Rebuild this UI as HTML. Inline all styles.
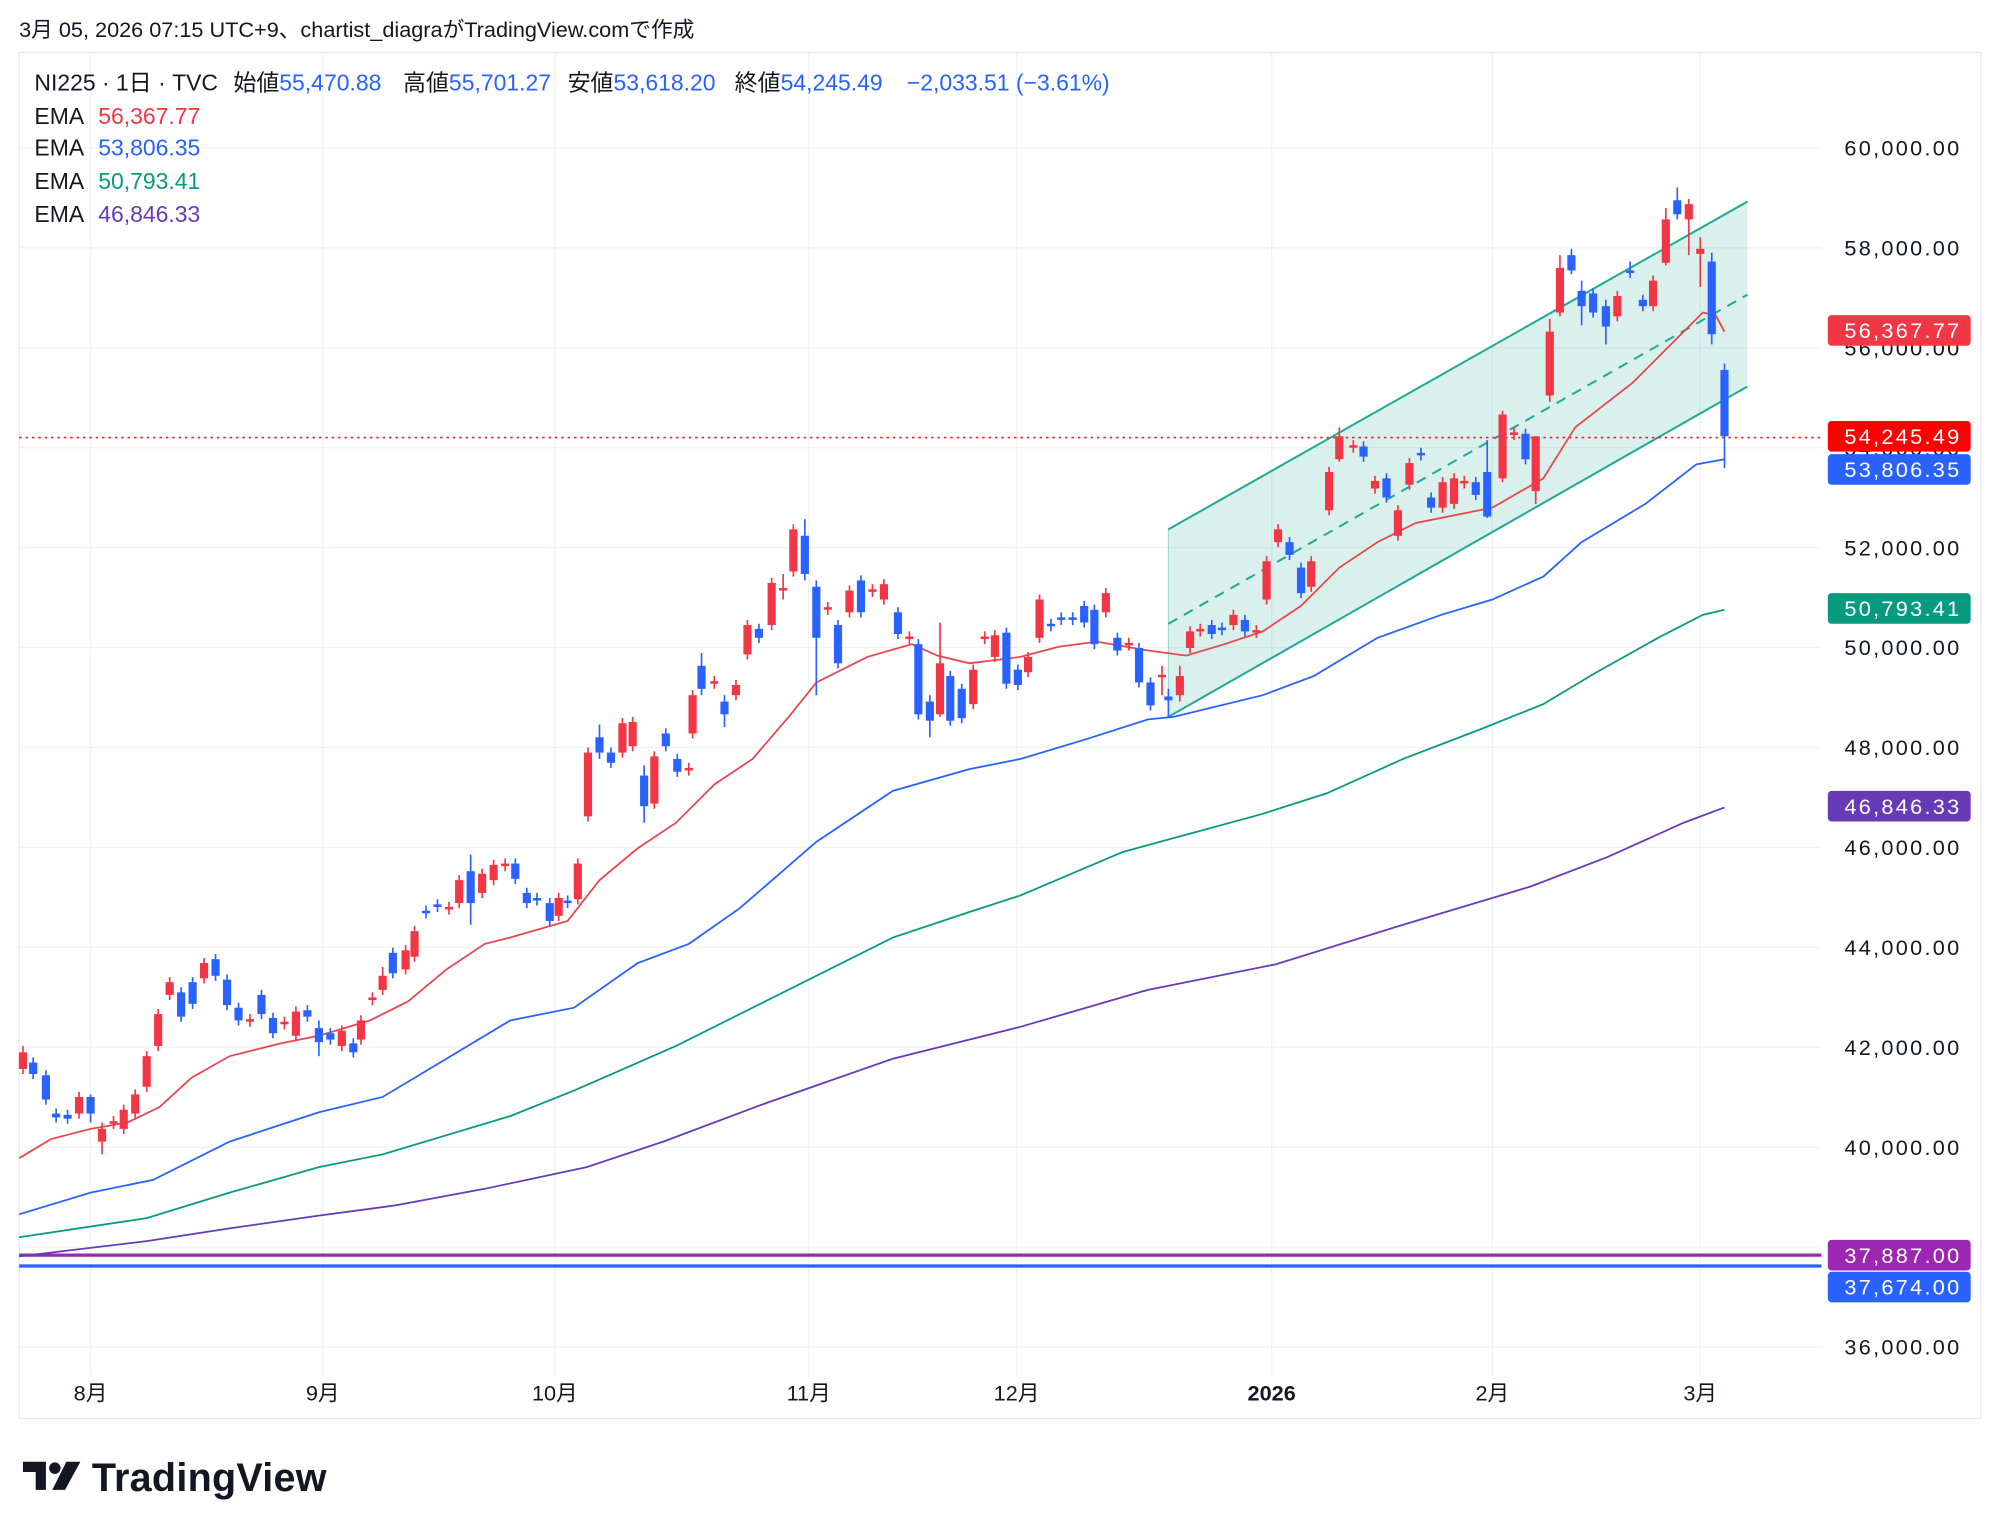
<!DOCTYPE html>
<html><head><meta charset="utf-8"><style>
html,body{margin:0;padding:0;background:#fff;}
svg{display:block;}
text{font-family:"Liberation Sans","Noto Sans CJK JP",sans-serif;}
</style></head><body>
<svg id="s" width="2000" height="1534" viewBox="0 0 1568 1202.6" xmlns="http://www.w3.org/2000/svg">
<rect width="1568" height="1203" fill="#fff"/>
<text x="15" y="29" font-size="17" fill="#131722">3月 05, 2026 07:15 UTC+9、chartist_diagraがTradingView.comで作成</text>
<rect x="15" y="41" width="1538" height="1071" fill="none" stroke="#e6e8ee" stroke-width="1"/>
<g id="grid" stroke="#f0f2f5" stroke-width="1"></g>
<polygon points="916,415 1370,158 1370,303 916,562" fill="#089981" fill-opacity="0.15"/>
<line x1="916" y1="415" x2="1370" y2="158" stroke="#22ab94" stroke-width="1.6"/>
<line x1="916" y1="562" x2="1370" y2="303" stroke="#22ab94" stroke-width="1.6"/>
<line x1="916" y1="489" x2="1370" y2="231" stroke="#22ab94" stroke-width="1.6" stroke-dasharray="8,6"/>
<line x1="916" y1="415" x2="916" y2="562" stroke="#22ab94" stroke-width="0.8" stroke-opacity="0.4"/>
<line x1="15" y1="984" x2="1428" y2="984" stroke="#9c27b0" stroke-width="2.5"/>
<line x1="15" y1="992.5" x2="1428" y2="992.5" stroke="#2962ff" stroke-width="2.5"/>
<line x1="15" y1="343" x2="1428" y2="343" stroke="#e0292e" stroke-width="1.3" stroke-dasharray="2,3"/>
<polyline fill="none" stroke="#673ab7" stroke-width="1.4" points="15,985 115,973 180,963 250,953 310,945 380,932 460,915 520,895 600,865 700,830 800,805 900,776 1000,756 1100,725 1200,695 1260,672 1320,645 1352,633"/>
<polyline fill="none" stroke="#089981" stroke-width="1.4" points="15,970 115,955 180,935 250,915 300,905 400,875 450,855 530,820 600,785 640,765 700,735 760,715 800,702 880,668 990,638 1040,622 1100,595 1160,572 1210,552 1250,528 1300,500 1335,482 1352,478"/>
<polyline fill="none" stroke="#2962ff" stroke-width="1.4" points="15,952 71,935 120,925 180,895 250,872 300,860 350,830 400,800 450,790 500,755 540,740 580,712 640,660 700,620 760,603 800,595 850,580 900,564 920,562 990,545 1030,530 1080,500 1130,482 1170,470 1210,452 1240,425 1290,395 1330,364 1352,360"/>
<polyline fill="none" stroke="#e8474f" stroke-width="1.4" points="15,908 40,893 71,885 100,880 125,868 150,845 180,828 220,818 250,812 290,800 320,785 350,760 380,740 400,735 445,722 470,690 500,665 530,645 560,615 590,595 620,560 640,535 680,515 715,505 735,514 760,520 800,515 830,507 860,503 900,510 930,514 960,505 990,495 1020,475 1050,445 1080,425 1110,410 1135,405 1170,398 1210,375 1235,335 1280,300 1310,270 1335,245 1345,247 1352,260"/>
<g id="candles"></g>
<g id="ylab" font-size="17" fill="#131722"></g>
<g font-size="17" fill="#131722" text-anchor="middle">
<text x="71" y="1098">8月</text><text x="253" y="1098">9月</text><text x="435" y="1098">10月</text><text x="634" y="1098">11月</text><text x="797" y="1098">12月</text><text x="997" y="1098" font-weight="bold">2026</text><text x="1170" y="1098">2月</text><text x="1333" y="1098">3月</text>
</g>
<g id="boxes" font-size="17" fill="#fff"></g>
<g font-size="18" fill="#131722">
<text x="27" y="71">NI225 · 1日 · TVC</text>
<text x="183" y="71">始値<tspan fill="#2962ff">55,470.88</tspan></text>
<text x="316" y="71">高値<tspan fill="#2962ff">55,701.27</tspan></text>
<text x="445" y="71">安値<tspan fill="#2962ff">53,618.20</tspan></text>
<text x="576" y="71">終値<tspan fill="#2962ff">54,245.49</tspan></text>
<text x="711" y="71" fill="#2962ff">−2,033.51 (−3.61%)</text>
<text x="27" y="97">EMA</text><text x="77" y="97" fill="#f23645">56,367.77</text>
<text x="27" y="122">EMA</text><text x="77" y="122" fill="#2962ff">53,806.35</text>
<text x="27" y="148">EMA</text><text x="77" y="148" fill="#089981">50,793.41</text>
<text x="27" y="174">EMA</text><text x="77" y="174" fill="#673ab7">46,846.33</text>
</g>
<g fill="#131722">
<path d="M18,1146 h18 v22 h-8 v-14 h-10 z"/>
<circle cx="43" cy="1151" r="4.5"/>
<path d="M52,1146 h11 l-12,22 h-10 z"/>
<text x="72" y="1169" font-size="31" font-weight="bold" textLength="184">TradingView</text>
</g>
</svg>
<script>
var NS="http://www.w3.org/2000/svg";
function el(p,t,a){var e=document.createElementNS(NS,t);for(var k in a)e.setAttribute(k,a[k]);p.appendChild(e);return e;}
var g=document.getElementById('grid');
var ticks=["60,000.00","58,000.00","56,000.00","54,000.00","52,000.00","50,000.00","48,000.00","46,000.00","44,000.00","42,000.00","40,000.00","38,000.00","36,000.00"];
var yl=document.getElementById('ylab');
for(var i=0;i<13;i++){var y=116+i*78.33;el(g,'line',{x1:15,x2:1428,y1:y,y2:y});
 if(i!=11){var t=el(yl,'text',{x:1446,y:y+6,textLength:90});t.textContent=ticks[i];}}
[71,253,435,634,797,997,1170,1333].forEach(function(x){el(g,'line',{x1:x,x2:x,y1:41,y2:1078});});
var B=[[1433,247,"#f23645","56,367.77"],[1433,330,"#ff0000","54,245.49"],[1433,356,"#2962ff","53,806.35"],[1433,465,"#089981","50,793.41"],[1433,620,"#673ab7","46,846.33"],[1433,972,"#9c27b0","37,887.00"],[1433,997,"#2962ff","37,674.00"]];
var bx=document.getElementById('boxes');
B.forEach(function(b){el(bx,'rect',{x:b[0],y:b[1],width:112,height:24,rx:3,fill:b[2]});var t=el(bx,'text',{x:1446,y:b[1]+18,textLength:90});t.textContent=b[3];});
var C=[[18,825,838,'r',820,842],[26,833,842,'b'],[36,843,862,'b'],[44,873,876,'b'],[53,874,877,'b'],[62,860,873,'r'],[71,860,873,'b',858,880],[80,885,895,'r',880,905],[89,879,881,'r'],[97,870,885,'r'],[106,858,873,'r'],[115,828,852,'r'],[124,795,820,'r'],[133,770,780,'r'],[142,778,797,'b'],[151,770,787,'b'],[160,755,767,'r'],[169,752,765,'b'],[178,768,788,'b'],[187,790,800,'b'],[196,799,801,'r'],[205,780,795,'b'],[214,798,810,'b'],[223,801,803,'r'],[232,793,812,'r'],[241,792,797,'b'],[250,806,817,'b',800,828],[259,810,815,'b'],[268,808,820,'r'],[277,818,825,'b'],[283,800,815,'r'],[292,782,784,'r'],[300,765,776,'r',758,780],[308,747,763,'b'],[318,745,760,'r'],[325,730,750,'r'],[334,714,716,'b'],[343,709,711,'b'],[352,711,713,'r'],[360,690,708,'r'],[369,683,708,'b',670,725],[378,685,700,'r'],[387,678,690,'r'],[396,677,679,'r'],[404,677,689,'b'],[413,700,708,'b'],[421,704,706,'b'],[431,708,722,'b'],[438,704,718,'r'],[445,706,708,'b'],[453,677,705,'r'],[461,590,640,'r'],[470,578,590,'b',568,595],[479,590,598,'b'],[488,567,590,'r'],[496,566,585,'r'],[505,608,632,'b',600,645],[513,593,630,'r'],[522,575,585,'b'],[531,595,605,'b'],[540,602,604,'r'],[543,545,575,'r'],[550,522,540,'b',512,545],[560,534,536,'r'],[568,550,560,'b',545,570],[577,537,545,'r'],[586,490,513,'r'],[595,493,500,'b'],[605,457,490,'r'],[614,461,463,'r',450,470],[622,415,448,'r'],[631,420,450,'b',407,455],[640,460,500,'b',455,545],[649,476,478,'r'],[657,490,520,'b'],[666,463,480,'r'],[675,455,480,'b'],[684,462,464,'r'],[693,458,470,'r'],[704,480,497,'b'],[713,499,501,'r'],[720,505,560,'b'],[729,550,565,'b',545,578],[737,520,560,'r',488,562],[745,530,565,'b'],[754,540,563,'b'],[763,525,552,'r'],[772,499,501,'r'],[780,498,515,'r'],[789,496,536,'b'],[798,525,537,'b'],[806,515,527,'r'],[815,470,500,'r'],[824,489,491,'b'],[832,484,486,'b'],[841,484,486,'b'],[850,475,488,'b'],[858,478,505,'b'],[867,465,480,'r'],[876,500,510,'b'],[885,504,506,'r'],[893,508,535,'b'],[902,535,553,'b'],[911,529,531,'r',522,545],[916,546,549,'b',540,562],[925,530,545,'r',522,550],[933,495,508,'r'],[941,493,495,'r'],[950,490,497,'b'],[958,492,494,'b'],[967,482,490,'r'],[976,486,495,'b'],[985,494,496,'r'],[993,440,470,'r'],[1002,415,425,'r'],[1011,425,435,'b'],[1020,445,465,'b'],[1028,440,460,'r'],[1042,370,400,'r'],[1050,342,360,'r',335,362],[1061,349,351,'r'],[1069,350,358,'b'],[1078,377,383,'r'],[1087,375,390,'b'],[1096,400,420,'r'],[1105,363,380,'r'],[1114,355,357,'b'],[1122,390,398,'b'],[1131,378,398,'r'],[1140,375,395,'r'],[1148,377,379,'r'],[1157,378,388,'b'],[1166,370,405,'b',345,406],[1178,325,375,'r',322,378],[1187,339,341,'r'],[1196,340,360,'b'],[1204,342,385,'r',342,395],[1215,260,310,'r',250,315],[1223,210,245,'r',200,248],[1232,200,212,'b',195,215],[1240,228,240,'b',220,255],[1249,230,245,'b'],[1259,240,256,'b',235,270],[1268,232,248,'r'],[1278,212,214,'b',205,218],[1288,235,240,'b'],[1296,220,240,'r'],[1306,172,206,'r',163,208],[1315,157,168,'b',147,172],[1324,160,172,'r',156,200],[1333,195,199,'r',186,225],[1342,205,262,'b',198,270],[1352,290,342,'b',285,367]];
var cg=document.getElementById('candles');
C.forEach(function(c){var col=c[3]=='r'?'#f23645':'#2962ff';var wt=c[4]||c[1]-4,wb=c[5]||c[2]+4;
 el(cg,'line',{x1:c[0],x2:c[0],y1:wt,y2:wb,stroke:col,'stroke-width':1.3});
 var h=Math.max(c[2]-c[1],1.5);el(cg,'rect',{x:c[0]-3.2,y:c[1],width:6.4,height:h,fill:col});});
</script>
</body></html>
